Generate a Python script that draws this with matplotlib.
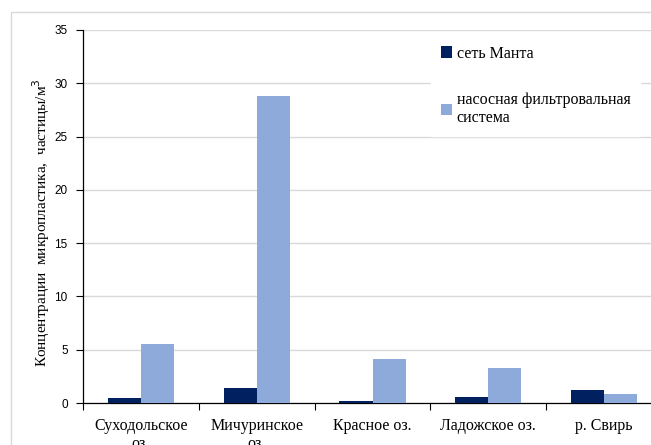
import matplotlib.pyplot as plt
import matplotlib.patches as mpatches
import numpy as np

# sampling sites and microplastic concentrations (particles per m3)
sites = ["Суходольское\nоз.", "Мичуринское\nоз.", "Красное оз.", "Ладожское оз.", "р. Свирь"]
manta_net = [0.45, 1.38, 0.22, 0.6, 1.25]
pump_filter = [5.5, 28.8, 4.1, 3.3, 0.88]
series_names = ["сеть Манта", "насосная фильтровальная\nсистема"]

dark = "#002060"
light = "#8eaadb"

plt.rcParams['font.family'] = ['Liberation Serif', 'DejaVu Serif']

fig = plt.figure(figsize=(6.51, 4.45), dpi=100)

# light frame around the chart area
fig.patches.append(mpatches.Rectangle((11 / 651, -0.1), 1.2, 1 - 12 / 445 + 0.1,
                                      transform=fig.transFigure, fill=False,
                                      edgecolor="#d9d9d9", linewidth=1))

ax = fig.add_axes([83 / 651, 42 / 445, 579 / 651, 373 / 445])

x = np.arange(len(sites))
w = 0.285
ax.bar(x - w / 2, manta_net, w, color=dark, label=series_names[0], zorder=3)
ax.bar(x + w / 2, pump_filter, w, color=light, label=series_names[1], zorder=3)

ax.set_xlim(-0.5, len(sites) - 0.5)
ax.set_ylim(0, 35)
ax.set_yticks(range(0, 36, 5))
ax.yaxis.grid(True, color="#d9d9d9", linewidth=1, zorder=0)
ax.set_axisbelow(True)

# category labels between boundary ticks
ax.set_xticks(x)
ax.set_xticklabels(sites, fontsize=11.5, linespacing=1.15)
ax.tick_params(axis="x", length=0, pad=11)
ax.set_xticks(np.arange(-0.5, len(sites), 1), minor=True)
ax.tick_params(axis="x", which="minor", length=5, direction="out", width=0.8)
ax.tick_params(axis="y", length=5, direction="out", width=0.8, labelsize=8.5, pad=6)
for lab in ax.get_yticklabels():
    lab.set_fontfamily(['Liberation Sans', 'DejaVu Sans'])

for s in ["top", "right"]:
    ax.spines[s].set_visible(False)
ax.spines["left"].set_linewidth(0.9)
ax.spines["bottom"].set_linewidth(0.9)

ax.set_ylabel("Концентрации  микропластика,  частицы/м$^3$", fontsize=11)
ax.yaxis.set_label_coords(-0.054, 0.483)

leg = ax.legend(loc="upper left", bbox_to_anchor=(423 / 651, 1 - 28 / 445),
                bbox_transform=fig.transFigure, frameon=True, fontsize=11.5,
                handlelength=0.7, handleheight=0.7, handletextpad=0.3,
                labelspacing=1.9, borderpad=0.6, fancybox=False)
leg.get_frame().set_facecolor("white")
leg.get_frame().set_edgecolor("white")
leg.get_frame().set_alpha(1)

fig.savefig("out.png", dpi=100)
